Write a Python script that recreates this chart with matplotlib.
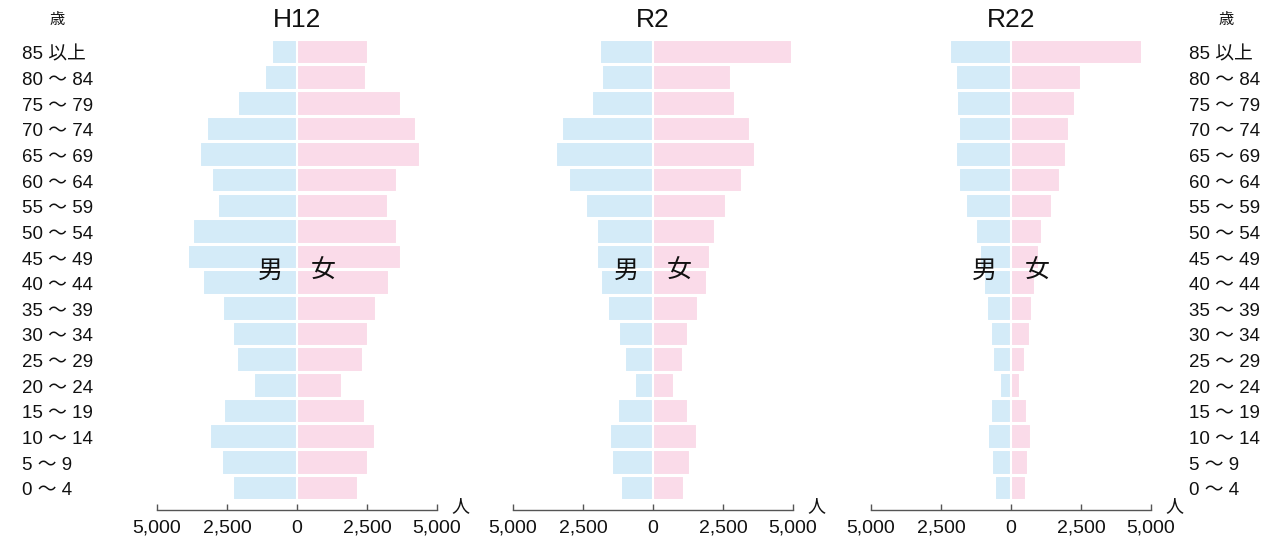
import numpy as np
import matplotlib
matplotlib.use("Agg")
import matplotlib.pyplot as plt
from matplotlib.transforms import blended_transform_factory

plt.rcParams['font.family'] = ['Liberation Sans', 'Noto Sans CJK JP', 'DejaVu Sans']

# age groups, bottom to top
ages = ["0 〜 4", "5 〜 9", "10 〜 14", "15 〜 19", "20 〜 24", "25 〜 29",
        "30 〜 34", "35 〜 39", "40 〜 44", "45 〜 49", "50 〜 54", "55 〜 59",
        "60 〜 64", "65 〜 69", "70 〜 74", "75 〜 79", "80 〜 84", "85 以上"]

titles = ["H12", "R2", "R22"]

# population (persons), bottom (0-4) to top (85+)
h12_male = [2290, 2670, 3090, 2610, 1530, 2150, 2280, 2650, 3350, 3890,
            3720, 2830, 3040, 3470, 3230, 2100, 1150, 900]
h12_female = [2170, 2520, 2800, 2430, 1620, 2360, 2520, 2830, 3290, 3720,
              3570, 3260, 3580, 4390, 4250, 3700, 2450, 2540]

r2_male = [1130, 1450, 1540, 1250, 640, 1000, 1200, 1620, 1870, 2000,
           2000, 2380, 3010, 3460, 3250, 2190, 1830, 1890]
r2_female = [1120, 1320, 1570, 1240, 740, 1070, 1260, 1620, 1920, 2050,
             2230, 2590, 3170, 3650, 3480, 2920, 2790, 4970]

r22_male = [580, 690, 830, 710, 380, 640, 710, 860, 980, 1110,
            1240, 1610, 1860, 1980, 1870, 1940, 1950, 2180]
r22_female = [520, 600, 710, 580, 330, 510, 670, 750, 860, 990,
              1110, 1450, 1760, 1960, 2080, 2300, 2490, 4690]

males = [h12_male, r2_male, r22_male]
females = [h12_female, r2_female, r22_female]

xticks = [-5000, -2500, 0, 2500, 5000]
xticklabels = ["5,000", "2,500", "0", "2,500", "5,000"]

blue = "#d4ebf8"
pink = "#fadbe9"
grey = "#555555"
ink = "#111111"

fig = plt.figure(figsize=(12.62, 5.40), dpi=100)

lefts = [157, 513, 871]
axes = []
y = np.arange(len(ages))
for i in range(3):
    ax = fig.add_axes([lefts[i] / 1262, 0.0556, 280 / 1262, 0.8767])
    ax.barh(y, -np.array(males[i]), height=0.96, color=blue,
            edgecolor="white", linewidth=1.5)
    ax.barh(y, females[i], height=0.96, color=pink,
            edgecolor="white", linewidth=1.5)
    ax.set_xlim(-5000, 5000)
    ax.set_ylim(-0.86, 17.6)
    for s in ["left", "right", "top"]:
        ax.spines[s].set_visible(False)
    ax.spines["bottom"].set_color(grey)
    ax.spines["bottom"].set_linewidth(1.0)
    ax.set_yticks([])
    ax.set_xticks(xticks)
    ax.set_xticklabels(xticklabels, fontsize=14)
    ax.tick_params(axis="x", direction="in", length=4.5, width=1.0,
                   color=grey, pad=7, labelcolor=ink)
    # panel title
    fig.text((lefts[i] + 140) / 1262, 1 - 20 / 540, titles[i], ha="center",
             va="center", fontsize=19, color=ink)
    ax.text(-960, 8.45, "男", ha="center", va="center", fontsize=18, color=ink)
    ax.text(930, 8.45, "女", ha="center", va="center", fontsize=18, color=ink)
    ax.text(1.085, 0.008, "人", transform=ax.transAxes, ha="center",
            va="center", fontsize=13, color=ink)
    axes.append(ax)

# age labels on both sides
for ax, xpix in [(axes[0], 22), (axes[2], 1189)]:
    tr = blended_transform_factory(fig.transFigure, ax.transData)
    for k, lab in enumerate(ages):
        ax.text(xpix / 1262, k - 0.29, lab, transform=tr, ha="left",
                va="baseline", fontsize=13.5, color=ink)

fig.text(57 / 1262, 1 - 20 / 540, "歳", ha="center", va="center",
         fontsize=11, color=ink)
fig.text(1226 / 1262, 1 - 20 / 540, "歳", ha="center", va="center",
         fontsize=11, color=ink)

fig.savefig("out.png", dpi=100)
